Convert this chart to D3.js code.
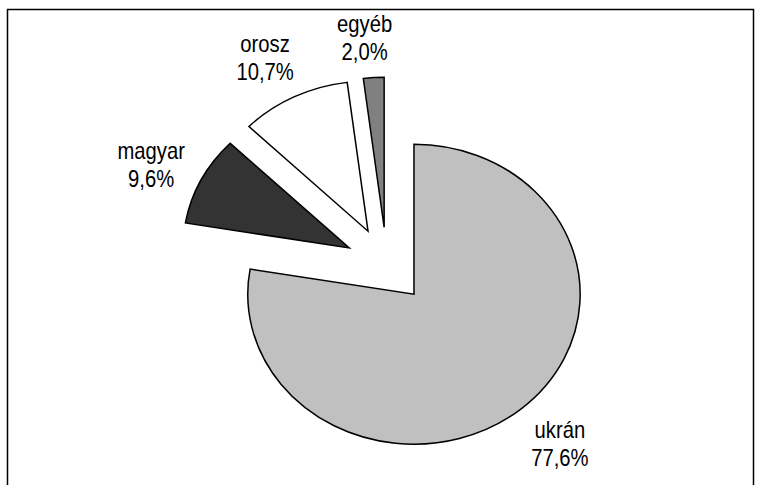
<!DOCTYPE html>
<html>
<head>
<meta charset="utf-8">
<script src="https://cdn.jsdelivr.net/npm/d3@7"></script>
<style>
  body { margin: 0; background: #fff; }
  svg text { font-family: "Liberation Sans", Arial, sans-serif; }
</style>
</head>
<body>
<script>
// data
var categories = ["ukrán", "magyar", "orosz", "egyéb"];
var values = [77.6, 9.6, 10.7, 2.0];
var fills = ["#c0c0c0", "#333333", "#ffffff", "#808080"];

var width = 760, height = 485;

// pie geometry (the pie is slightly stretched horizontally)
var r = 150,
    sx = 1.108,
    cx = 386.8, cy = 265.2,
    explode = 38,
    labelR = r * 1.32,
    labelTurn = -1.5 * Math.PI / 180,
    minBaseline = 32;   // keep labels inside the chart border

var color = d3.scaleOrdinal().domain(categories).range(fills);
var fmt = function(v) { return d3.format(".1f")(v).replace(".", ",") + "%"; };

var data = categories.map(function(c, i) { return {name: c, value: values[i]}; });

var pie = d3.pie()
    .sort(null)
    .value(function(d) { return d.value; });

var arc = d3.arc().innerRadius(0).outerRadius(r);

var svg = d3.select("body").append("svg")
    .attr("width", width)
    .attr("height", height);

svg.append("rect")
    .attr("width", width)
    .attr("height", height)
    .attr("fill", "#fff");

// chart border
svg.append("rect")
    .attr("x", 7.5)
    .attr("y", 9.5)
    .attr("width", 746)
    .attr("height", 490)
    .attr("fill", "none")
    .attr("stroke", "#000")
    .attr("stroke-width", 1.5);

var arcs = pie(data);

arcs.forEach(function(a) {
  var mid = (a.startAngle + a.endAngle) / 2;
  a.dx = Math.sin(mid);
  a.dy = -Math.cos(mid);
  // label spot: exploded tip + distance along (slightly turned) middle angle
  var lm = mid + labelTurn;
  a.lx = cx + sx * (a.dx * explode + Math.sin(lm) * labelR);
  a.ly = Math.max(cy + a.dy * explode - Math.cos(lm) * labelR - 4, minBaseline);
});

var g = svg.append("g")
    .attr("transform", "translate(" + cx + "," + cy + ") scale(" + sx + ",1)");

g.selectAll("path")
    .data(arcs)
  .enter().append("path")
    .attr("transform", function(d) {
      return "translate(" + (d.dx * explode) + "," + (d.dy * explode) + ")";
    })
    .attr("d", arc)
    .attr("fill", function(d) { return color(d.data.name); })
    .attr("stroke", "#000")
    .attr("stroke-width", 1.5)
    .attr("stroke-linejoin", "miter")
    .attr("vector-effect", "non-scaling-stroke");

// labels outside each slice (text is slightly condensed like the original)
var labels = svg.selectAll(".label")
    .data(arcs)
  .enter().append("text")
    .attr("class", "label")
    .attr("text-anchor", "middle")
    .attr("font-size", "23px")
    .attr("fill", "#000")
    .attr("transform", function(d) {
      return "translate(" + d.lx + "," + d.ly + ") scale(0.88,1)";
    });

labels.append("tspan")
    .attr("x", 0)
    .attr("y", 0)
    .text(function(d) { return d.data.name; });

labels.append("tspan")
    .attr("x", 0)
    .attr("y", 28)
    .text(function(d) { return fmt(d.data.value); });
</script>
</body>
</html>
